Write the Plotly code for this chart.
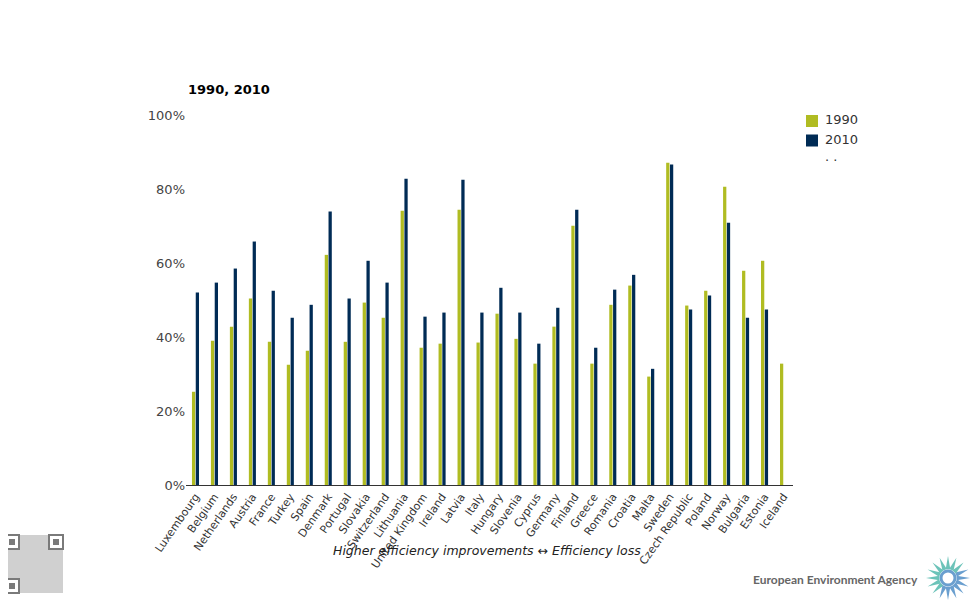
import math
import plotly.graph_objects as go

countries = ["Luxembourg", "Belgium", "Netherlands", "Austria", "France", "Turkey", "Spain",
             "Denmark", "Portugal", "Slovakia", "Switzerland", "Lithuania", "United Kingdom",
             "Ireland", "Latvia", "Italy", "Hungary", "Slovenia", "Cyprus", "Germany", "Finland",
             "Greece", "Romania", "Croatia", "Malta", "Sweden", "Czech Republic", "Poland",
             "Norway", "Bulgaria", "Estonia", "Iceland"]
v1990 = [25.2, 39.0, 42.8, 50.4, 38.7, 32.5, 36.3, 62.2, 38.7, 49.3, 45.2, 74.1, 37.1,
         38.2, 74.4, 38.5, 46.3, 39.5, 32.8, 42.8, 70.1, 32.8, 48.7, 53.9, 29.3, 87.1,
         48.5, 52.5, 80.6, 57.9, 60.6, 32.8]
v2010 = [52.0, 54.7, 58.5, 65.8, 52.5, 45.2, 48.7, 73.9, 50.4, 60.6, 54.7, 82.8, 45.5,
         46.6, 82.5, 46.6, 53.3, 46.6, 38.2, 47.9, 74.4, 37.1, 52.8, 56.8, 31.4, 86.6,
         47.4, 51.2, 70.9, 45.2, 47.4, None]
y_ticks = [0, 20, 40, 60, 80, 100]
y_tick_text = ["0%", "20%", "40%", "60%", "80%", "100%"]
series_names = ["1990", "2010", ". ."]
series_colors = ["#B0BC22", "#002B55", "rgba(0,0,0,0)"]

FONT = "DejaVu Sans, Verdana, sans-serif"
W, H = 980, 600
L, R, T, B = 178, 195, 107, 123
PW, PH = W - L - R, H - T - B
OFF = 8  # page body margin


def px(X):
    return (X - OFF - L) / PW


def py(Y):
    return (H - B - (Y - OFF)) / PH


fig = go.Figure()
fig.add_trace(go.Bar(x=countries, y=v1990, name=series_names[0],
                     marker=dict(color=series_colors[0], line=dict(width=0))))
fig.add_trace(go.Bar(x=countries, y=v2010, name=series_names[1],
                     marker=dict(color=series_colors[1], line=dict(width=0))))

shapes = []
annotations = []

# manual legend
for i, (nm, col) in enumerate(zip(series_names, series_colors)):
    yc = 121 + i * 19.5
    if i < 2:
        shapes.append(dict(type="rect", xref="paper", yref="paper",
                           x0=px(806), x1=px(818), y0=py(yc + 6), y1=py(yc - 6),
                           fillcolor=col, line=dict(width=0)))
    annotations.append(dict(text=nm, xref="paper", yref="paper", x=px(823), y=py(yc - 1 if i < 2 else yc - 4),
                            xanchor="left", yanchor="middle", showarrow=False,
                            font=dict(size=13, color="#333333", family=FONT)))

# title
annotations.append(dict(text="<b>1990, 2010</b>", xref="paper", yref="paper", x=px(186), y=py(89),
                        xanchor="left", yanchor="middle", showarrow=False,
                        font=dict(size=13, color="#000000", family=FONT)))
# x-axis title
annotations.append(dict(text="<i>Higher efficiency improvements ↔ Efficiency loss</i>",
                        xref="paper", yref="paper", x=px(487), y=py(550),
                        xanchor="center", yanchor="middle", showarrow=False,
                        font=dict(size=12.5, color="#222222", family=FONT)))
# footer
annotations.append(dict(text="<b>European Environment Agency</b>", xref="paper", yref="paper",
                        x=px(920), y=py(579), xanchor="right", yanchor="middle", showarrow=False,
                        font=dict(size=12, color="#666666", family="Lato, Open Sans, sans-serif")))

# logo (decorative petals)
cx, cy = 948, 578
for k in range(16):
    a = math.radians(k * 22.5)
    deg = (k * 22.5) % 360
    col = "#6CC3B9" if 45 <= deg <= 225 else "#6A9FCF"
    r0, r1, wdt = 9, 22, 0.26
    pts = [(cx + r0 * math.cos(a - wdt), cy - r0 * math.sin(a - wdt)),
           (cx + r1 * math.cos(a), cy - r1 * math.sin(a)),
           (cx + r0 * math.cos(a + wdt), cy - r0 * math.sin(a + wdt))]
    path = "M " + " L ".join(f"{px(X):.5f},{py(Y):.5f}" for X, Y in pts) + " Z"
    shapes.append(dict(type="path", xref="paper", yref="paper", path=path,
                       fillcolor=col, line=dict(width=0)))
shapes.append(dict(type="circle", xref="paper", yref="paper",
                   x0=px(cx - 7), x1=px(cx + 7), y0=py(cy + 7), y1=py(cy - 7),
                   fillcolor="rgba(0,0,0,0)", line=dict(color="#6A9FCF", width=3)))

# QR code placeholder (decorative)
qx0, qy0, qs = 5, 535, 58
shapes.append(dict(type="rect", xref="paper", yref="paper",
                   x0=px(qx0), x1=px(qx0 + qs), y0=py(qy0 + qs), y1=py(qy0),
                   fillcolor="rgba(150,150,150,0.45)", line=dict(width=0)))
for fx, fy in [(qx0, qy0), (qx0 + qs - 14, qy0), (qx0, qy0 + qs - 14)]:
    shapes.append(dict(type="rect", xref="paper", yref="paper",
                       x0=px(fx), x1=px(fx + 14), y0=py(fy + 14), y1=py(fy),
                       fillcolor="white", line=dict(color="#7a7a7a", width=2)))
    shapes.append(dict(type="rect", xref="paper", yref="paper",
                       x0=px(fx + 4), x1=px(fx + 10), y0=py(fy + 10), y1=py(fy + 4),
                       fillcolor="#7a7a7a", line=dict(width=0)))

fig.update_layout(
    width=W, height=H,
    margin=dict(l=L, r=R, t=T, b=B, autoexpand=False),
    paper_bgcolor="white", plot_bgcolor="white",
    barmode="group", bargap=0.6, bargroupgap=0.14,
    font=dict(family=FONT, color="#333333", size=12),
    showlegend=False,
    xaxis=dict(tickangle=-55, tickfont=dict(size=11, color="#333333"),
               showline=True, linecolor="#333333", linewidth=1,
               showgrid=False, ticks="", automargin=False),
    yaxis=dict(range=[0, 100], tickvals=y_ticks, ticktext=y_tick_text,
               tickfont=dict(size=13, color="#444444"), showgrid=False,
               zeroline=False, showline=False, ticks="", automargin=False),
    shapes=shapes,
    annotations=annotations,
)

fig.write_html("out.html")
